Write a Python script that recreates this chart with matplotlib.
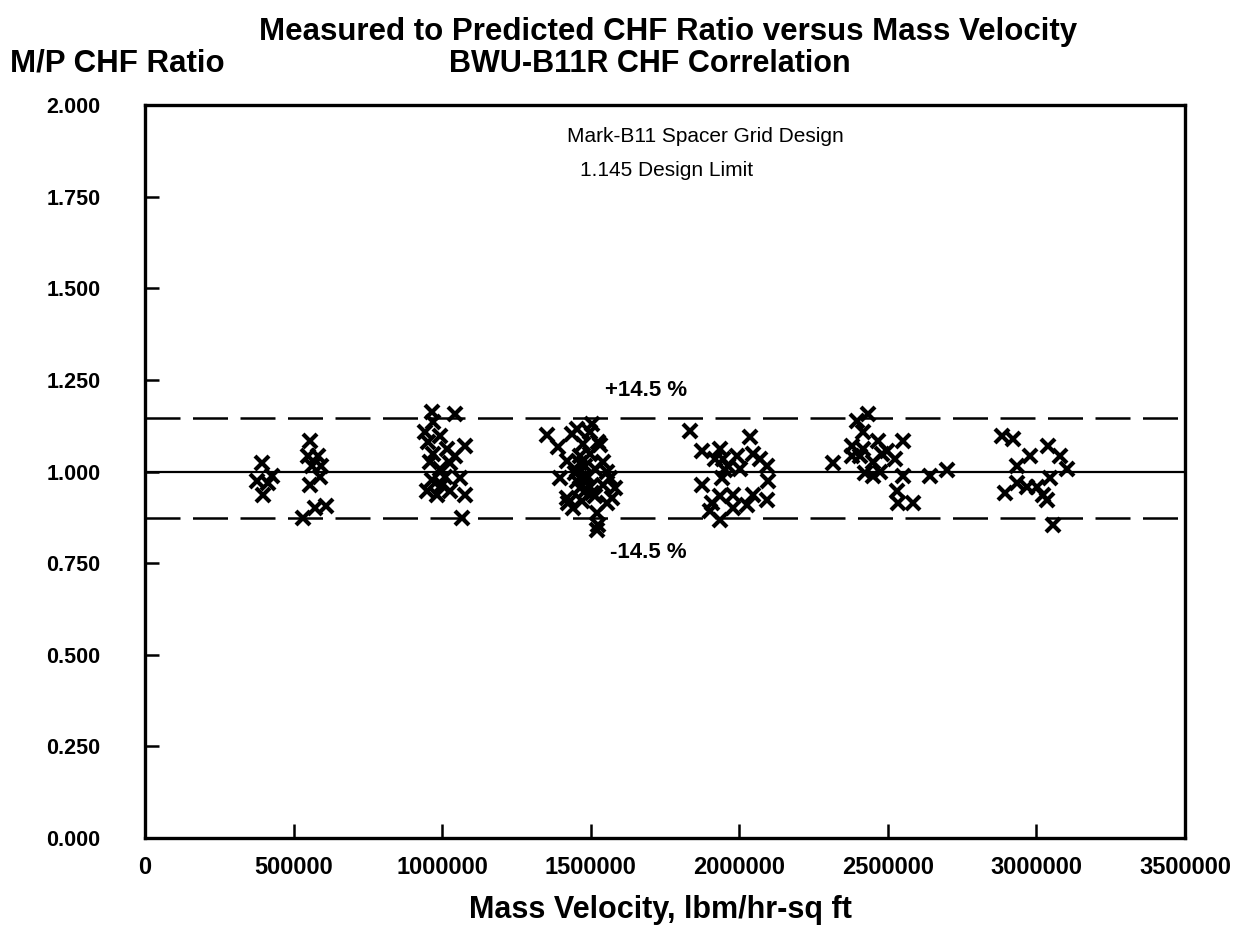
import matplotlib
matplotlib.use("Agg")
import matplotlib.pyplot as plt

# ---------------- data ----------------
mass_velocity = [
    # ~400k group
    394000, 377000, 427000, 397000, 414000,
    # ~570k group
    555000, 549000, 582000, 592000, 562000, 589000, 555000, 532000, 572000, 609000,
    # ~1.0M group
    966000, 1043000, 969000, 942000, 993000, 952000, 1077000, 1016000, 969000, 1043000,
    959000, 1026000, 993000, 1010000, 1060000, 966000, 999000, 949000, 1026000, 1077000,
    983000, 1067000,
    # ~1.5M group
    1353000, 1390000, 1437000, 1454000, 1498000, 1504000, 1525000, 1531000, 1420000, 1464000,
    1481000, 1498000, 1541000, 1555000, 1447000, 1491000, 1514000, 1397000, 1454000, 1498000,
    1541000, 1582000, 1420000, 1471000, 1514000, 1555000, 1440000, 1521000, 1525000, 1521000,
    1481000, 1464000, 1565000, 1572000, 1474000, 1424000, 1481000, 1504000, 1464000,
    # ~2.0M group
    1834000, 1875000, 2036000, 1935000, 1945000, 1992000, 2046000, 2093000, 1875000, 1942000,
    1962000, 2097000, 1935000, 1979000, 2046000, 2093000, 1901000, 1935000, 1979000, 2026000,
    1952000, 1918000, 2002000, 2070000, 1908000,
    # ~2.5M group
    2396000, 2433000, 2416000, 2315000, 2379000, 2379000, 2416000, 2467000, 2551000, 2497000,
    2524000, 2450000, 2450000, 2474000, 2551000, 2531000, 2534000, 2585000, 2642000, 2699000,
    2406000, 2480000, 2423000,
    # ~3.0M group
    2884000, 2921000, 2978000, 3039000, 3079000, 2935000, 3103000, 2894000, 2935000, 2968000,
    3002000, 3046000, 3022000, 3036000, 3056000,
]
chf_ratio = [
    1.022, 0.973, 0.989, 0.935, 0.968,
    1.084, 1.041, 1.041, 1.016, 1.016, 0.986, 0.962, 0.873, 0.900, 0.905,
    1.162, 1.157, 1.135, 1.108, 1.097, 1.081, 1.070, 1.062, 1.049, 1.043,
    1.027, 1.022, 1.008, 0.986, 0.981, 0.976, 0.962, 0.946, 0.946, 0.935,
    0.935, 0.873,
    1.100, 1.068, 1.103, 1.116, 1.108, 1.130, 1.081, 1.073, 1.030, 1.041,
    1.014, 1.049, 1.027, 1.000, 0.995, 0.986, 1.008, 0.981, 0.973, 0.959,
    0.962, 0.954, 0.927, 0.919, 0.932, 0.914, 0.900, 0.886, 0.854, 0.841,
    0.946, 1.022, 0.981, 0.927, 1.076, 0.914, 0.981, 0.941, 0.954,
    1.111, 1.057, 1.095, 1.062, 1.035, 1.041, 1.049, 1.014, 0.962, 0.981,
    1.014, 0.973, 0.932, 0.935, 0.935, 0.922, 0.892, 0.868, 0.900, 0.908,
    1.003, 1.035, 1.008, 1.035, 0.914,
    1.138, 1.157, 1.108, 1.022, 1.070, 1.041, 1.062, 1.084, 1.084, 1.057,
    1.035, 1.027, 0.989, 1.000, 0.989, 0.946, 0.914, 0.914, 0.989, 1.003,
    1.041, 1.049, 0.995,
    1.097, 1.089, 1.041, 1.070, 1.041, 1.014, 1.008, 0.941, 0.968, 0.959,
    0.959, 0.981, 0.935, 0.922, 0.854,
]

design_limit = 1.145
upper_limit = design_limit
lower_limit = 1.0 / design_limit

x_ticks = [0, 500000, 1000000, 1500000, 2000000, 2500000, 3000000, 3500000]
y_ticks = [0.0, 0.25, 0.5, 0.75, 1.0, 1.25, 1.5, 1.75, 2.0]

# ---------------- figure ----------------
W, H = 1246, 935
fig = plt.figure(figsize=(W / 100, H / 100), dpi=100)
plt.rcParams['font.family'] = ['Liberation Sans', 'DejaVu Sans']

L, R, T, B = 145, 1185, 105, 838
ax = fig.add_axes([L / W, 1 - B / H, (R - L) / W, (B - T) / H])

ax.set_xlim(0, 3500000)
ax.set_ylim(0, 2.0)

ax.axhline(1.0, color='black', lw=1.6, zorder=2)
for yl in (upper_limit, lower_limit):
    ax.axhline(yl, color='black', lw=1.8, dashes=(14, 5), zorder=2)

ax.plot(mass_velocity, chf_ratio, linestyle='none', marker='x', color='black',
        markersize=10.5, markeredgewidth=3.0, zorder=3)

for s in ax.spines.values():
    s.set_linewidth(2.4)

ax.set_xticks(x_ticks)
ax.set_xticklabels([str(v) for v in x_ticks])
ax.set_yticks(y_ticks)
ax.set_yticklabels(['%.3f' % v for v in y_ticks])
ax.tick_params(axis='both', direction='in', length=10, width=1.8,
               top=False, right=False)
ax.tick_params(axis='y', pad=32, labelsize=15.5)
ax.tick_params(axis='x', pad=13, labelsize=17)
for lab in ax.get_xticklabels() + ax.get_yticklabels():
    lab.set_fontweight('bold')


def ftext(px, py, s, size, weight='normal', ha='center'):
    fig.text(px / W, 1 - py / H, s, ha=ha, va='center', fontsize=size,
             fontweight=weight)


ftext(668, 32, 'Measured to Predicted CHF Ratio versus Mass Velocity', 22.5, 'bold')
ftext(650, 64, 'BWU-B11R CHF Correlation', 22, 'bold')
ftext(10, 64, 'M/P CHF Ratio', 22.5, 'bold', ha='left')
ftext(660, 910, 'Mass Velocity, lbm/hr-sq ft', 22, 'bold')

ftext(705, 136, 'Mark-B11 Spacer Grid Design', 15)
ftext(667, 170, '1.145 Design Limit', 15)
ftext(646, 391, '+14.5 %', 16, 'bold')
ftext(648, 552, '-14.5 %', 16, 'bold')

fig.savefig('out.png', dpi=100)
